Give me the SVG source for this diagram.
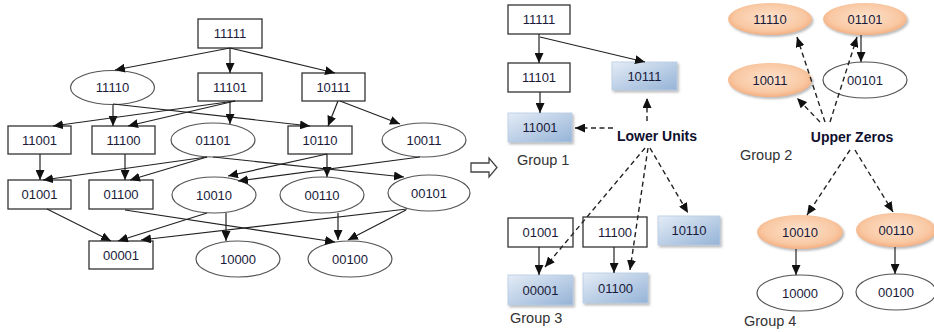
<svg xmlns="http://www.w3.org/2000/svg" width="934" height="332" viewBox="0 0 934 332">
<defs>
<style>
.bx{fill:#fff;stroke:#333;stroke-width:1.3}
.el{fill:#fff;stroke:#555;stroke-width:1.2}
.bl{fill:url(#gb);stroke:#b8cce4;stroke-width:0.8;filter:url(#sh)}
.pe{fill:url(#gp);stroke:none;filter:url(#sh)}
.t{font-family:"Liberation Sans",Arial,sans-serif;font-size:13px;fill:#1a1a3a;text-anchor:middle}
.g{font-family:"Liberation Sans",Arial,sans-serif;font-size:14.5px;fill:#333;}
.lb{font-family:"Liberation Sans",Arial,sans-serif;font-size:14px;font-weight:bold;fill:#0f0f2e;text-anchor:middle}
.e{fill:none;stroke:#222;stroke-width:1.2;marker-end:url(#ah)}
.d{fill:none;stroke:#222;stroke-width:1.4;stroke-dasharray:5,3.5;marker-end:url(#ah)}
</style>
<linearGradient id="gb" x1="0" y1="0" x2="1" y2="1">
<stop offset="0" stop-color="#e4ecf6"/>
<stop offset="1" stop-color="#95b3d7"/>
</linearGradient>
<radialGradient id="gp" cx="0.5" cy="0.45" r="0.6">
<stop offset="0" stop-color="#fde2cc"/>
<stop offset="0.7" stop-color="#f9c8a3"/>
<stop offset="1" stop-color="#f2a673"/>
</radialGradient>
<filter id="sh" x="-20%" y="-20%" width="150%" height="160%">
<feDropShadow dx="1.5" dy="2" stdDeviation="1" flood-color="#777" flood-opacity="0.5"/>
</filter>
<marker id="ah" markerUnits="userSpaceOnUse" markerWidth="10" markerHeight="9" refX="10" refY="4.5" orient="auto">
<path d="M0,0 L10,4.5 L0,9 z" fill="#111"/>
</marker>
</defs>
<rect width="934" height="332" fill="#fff"/>

<!-- Left graph nodes -->
<g id="L-11111"><rect class="bx" x="198" y="19" width="64" height="29"/><text class="t" x="230" y="38">11111</text></g>
<g id="L-11110"><ellipse class="el" cx="112.5" cy="87.5" rx="42" ry="17"/><text class="t" x="112.5" y="92">11110</text></g>
<g id="L-11101"><rect class="bx" x="198" y="73" width="64" height="28"/><text class="t" x="230" y="92">11101</text></g>
<g id="L-10111"><rect class="bx" x="302" y="73" width="63" height="28"/><text class="t" x="333.5" y="92">10111</text></g>
<g id="L-11001"><rect class="bx" x="8" y="126" width="63" height="28"/><text class="t" x="39.5" y="145">11001</text></g>
<g id="L-11100"><rect class="bx" x="92" y="126" width="63" height="28"/><text class="t" x="123.5" y="145">11100</text></g>
<g id="L-01101"><ellipse class="el" cx="213" cy="140" rx="42" ry="17"/><text class="t" x="213" y="145">01101</text></g>
<g id="L-10110"><rect class="bx" x="288" y="126" width="64" height="28"/><text class="t" x="320" y="145">10110</text></g>
<g id="L-10011"><ellipse class="el" cx="424" cy="140" rx="42" ry="17"/><text class="t" x="424" y="145">10011</text></g>
<g id="L-01001"><rect class="bx" x="8" y="180" width="63" height="29"/><text class="t" x="39.5" y="199">01001</text></g>
<g id="L-01100"><rect class="bx" x="89" y="180" width="64" height="29"/><text class="t" x="121" y="199">01100</text></g>
<g id="L-10010"><ellipse class="el" cx="214" cy="195" rx="42" ry="18"/><text class="t" x="214" y="200">10010</text></g>
<g id="L-00110"><ellipse class="el" cx="322" cy="195" rx="42" ry="18"/><text class="t" x="322" y="200">00110</text></g>
<g id="L-00101"><ellipse class="el" cx="429" cy="193" rx="41" ry="18"/><text class="t" x="429" y="198">00101</text></g>
<g id="L-00001"><rect class="bx" x="89" y="241" width="64" height="28"/><text class="t" x="121" y="260">00001</text></g>
<g id="L-10000"><ellipse class="el" cx="238" cy="259" rx="42" ry="18"/><text class="t" x="238" y="264">10000</text></g>
<g id="L-00100"><ellipse class="el" cx="350" cy="259" rx="42" ry="18"/><text class="t" x="350" y="264">00100</text></g>

<!-- transition arrow -->
<g id="transition"><path d="M471,163 L489,163 L489,158 L497,167.5 L489,177 L489,172 L471,172 z" fill="#fff" stroke="#444" stroke-width="1.3"/></g>

<!-- Right: group 1 -->
<g id="R-11111"><rect class="bx" x="508" y="5" width="62" height="29"/><text class="t" x="539" y="24">11111</text></g>
<g id="R-11101"><rect class="bx" x="508" y="63" width="62" height="29"/><text class="t" x="539" y="82">11101</text></g>
<g id="R-10111"><rect class="bl" x="612" y="62" width="65" height="28"/><text class="t" x="644.5" y="81">10111</text></g>
<g id="R-11001"><rect class="bl" x="508" y="113" width="64" height="29"/><text class="t" x="540" y="132">11001</text></g>
<g id="R-lower"><text class="lb" x="657" y="141">Lower Units</text></g>
<g id="R-g1"><text class="g" x="517" y="165">Group 1</text></g>

<!-- group 3 -->
<g id="R-01001"><rect class="bx" x="508" y="218" width="65" height="29"/><text class="t" x="540.5" y="237">01001</text></g>
<g id="R-11100"><rect class="bx" x="583" y="217" width="64" height="30"/><text class="t" x="615" y="237">11100</text></g>
<g id="R-10110"><rect class="bl" x="658" y="216" width="62" height="29"/><text class="t" x="689" y="235">10110</text></g>
<g id="R-00001"><rect class="bl" x="508" y="275" width="65" height="30"/><text class="t" x="540.5" y="295">00001</text></g>
<g id="R-01100"><rect class="bl" x="583" y="273" width="65" height="30"/><text class="t" x="615.5" y="293">01100</text></g>
<g id="R-g3"><text class="g" x="510" y="323">Group 3</text></g>

<!-- group 2 -->
<g id="R-11110"><ellipse class="pe" cx="770" cy="19" rx="42" ry="16"/><text class="t" x="770" y="24">11110</text></g>
<g id="R-01101"><ellipse class="pe" cx="865" cy="19" rx="42" ry="16"/><text class="t" x="865" y="24">01101</text></g>
<g id="R-10011"><ellipse class="pe" cx="770" cy="80" rx="42" ry="17"/><text class="t" x="770" y="85">10011</text></g>
<g id="R-00101"><ellipse class="el" cx="865" cy="80" rx="42" ry="18" stroke="#222"/><text class="t" x="865" y="85">00101</text></g>
<g id="R-upper"><text class="lb" x="852" y="142">Upper Zeros</text></g>
<g id="R-g2"><text class="g" x="740" y="160">Group 2</text></g>

<!-- group 4 -->
<g id="R-10010"><ellipse class="pe" cx="800" cy="232" rx="43" ry="17"/><text class="t" x="800" y="237">10010</text></g>
<g id="R-00110"><ellipse class="pe" cx="896" cy="230" rx="40" ry="17"/><text class="t" x="896" y="235">00110</text></g>
<g id="R-10000"><ellipse class="el" cx="800" cy="293" rx="43" ry="18" stroke="#222"/><text class="t" x="800" y="298">10000</text></g>
<g id="R-00100"><ellipse class="el" cx="896" cy="292" rx="40" ry="18" stroke="#222"/><text class="t" x="896" y="297">00100</text></g>
<g id="R-g4"><text class="g" x="744" y="326">Group 4</text></g>

<!-- connectors -->
<g id="connectors">
<path class="e" d="M230,48 L115,70"/>
<path class="e" d="M230,48 L230,73"/>
<path class="e" d="M230,48 L335,73"/>
<path class="e" d="M113,105 L113,126"/>
<path class="e" d="M113,104 L310,126"/>
<path class="e" d="M235,101 L53,126"/>
<path class="e" d="M235,101 L128,126"/>
<path class="e" d="M230,101 L230,124"/>
<path class="e" d="M338,101 L328,126"/>
<path class="e" d="M340,101 L400,124"/>
<path class="e" d="M40,154 L40,180"/>
<path class="e" d="M125,154 L125,180"/>
<path class="e" d="M207,157 L43,180"/>
<path class="e" d="M207,157 L130,180"/>
<path class="e" d="M213,157 L404,177"/>
<path class="e" d="M327,154 L228,176"/>
<path class="e" d="M327,154 L327,177"/>
<path class="e" d="M420,157 L238,181"/>
<path class="e" d="M47,209 L111,241"/>
<path class="e" d="M207,213 L118,241"/>
<path class="e" d="M407,209 L141,240"/>
<path class="e" d="M226,213 L226,241"/>
<path class="e" d="M125,210 L335,242"/>
<path class="e" d="M338,213 L338,240"/>
<path class="e" d="M406,210 L348,240"/>

<path class="e" d="M539,34 L539,63"/>
<path class="e" d="M540,37 L645,62"/>
<path class="e" d="M540,92 L540,113"/>
<path class="e" d="M539,247 L539,275"/>
<path class="e" d="M614,247 L614,273"/>
<path class="e" d="M861,35 L861,62"/>
<path class="e" d="M796,249 L796,275"/>
<path class="e" d="M895,247 L895,274"/>

<path class="d" d="M613,128 L575,128"/>
<path class="d" d="M647,121 L647,98"/>
<path class="d" d="M645,148 L545,267"/>
<path class="d" d="M648,148 L630,270"/>
<path class="d" d="M650,148 L688,213"/>
<path class="d" d="M825,122 L797,37"/>
<path class="d" d="M830,122 L857,37"/>
<path class="d" d="M820,122 L797,98"/>
<path class="d" d="M850,150 L807,215"/>
<path class="d" d="M855,150 L893,212"/>
</g>
</svg>
